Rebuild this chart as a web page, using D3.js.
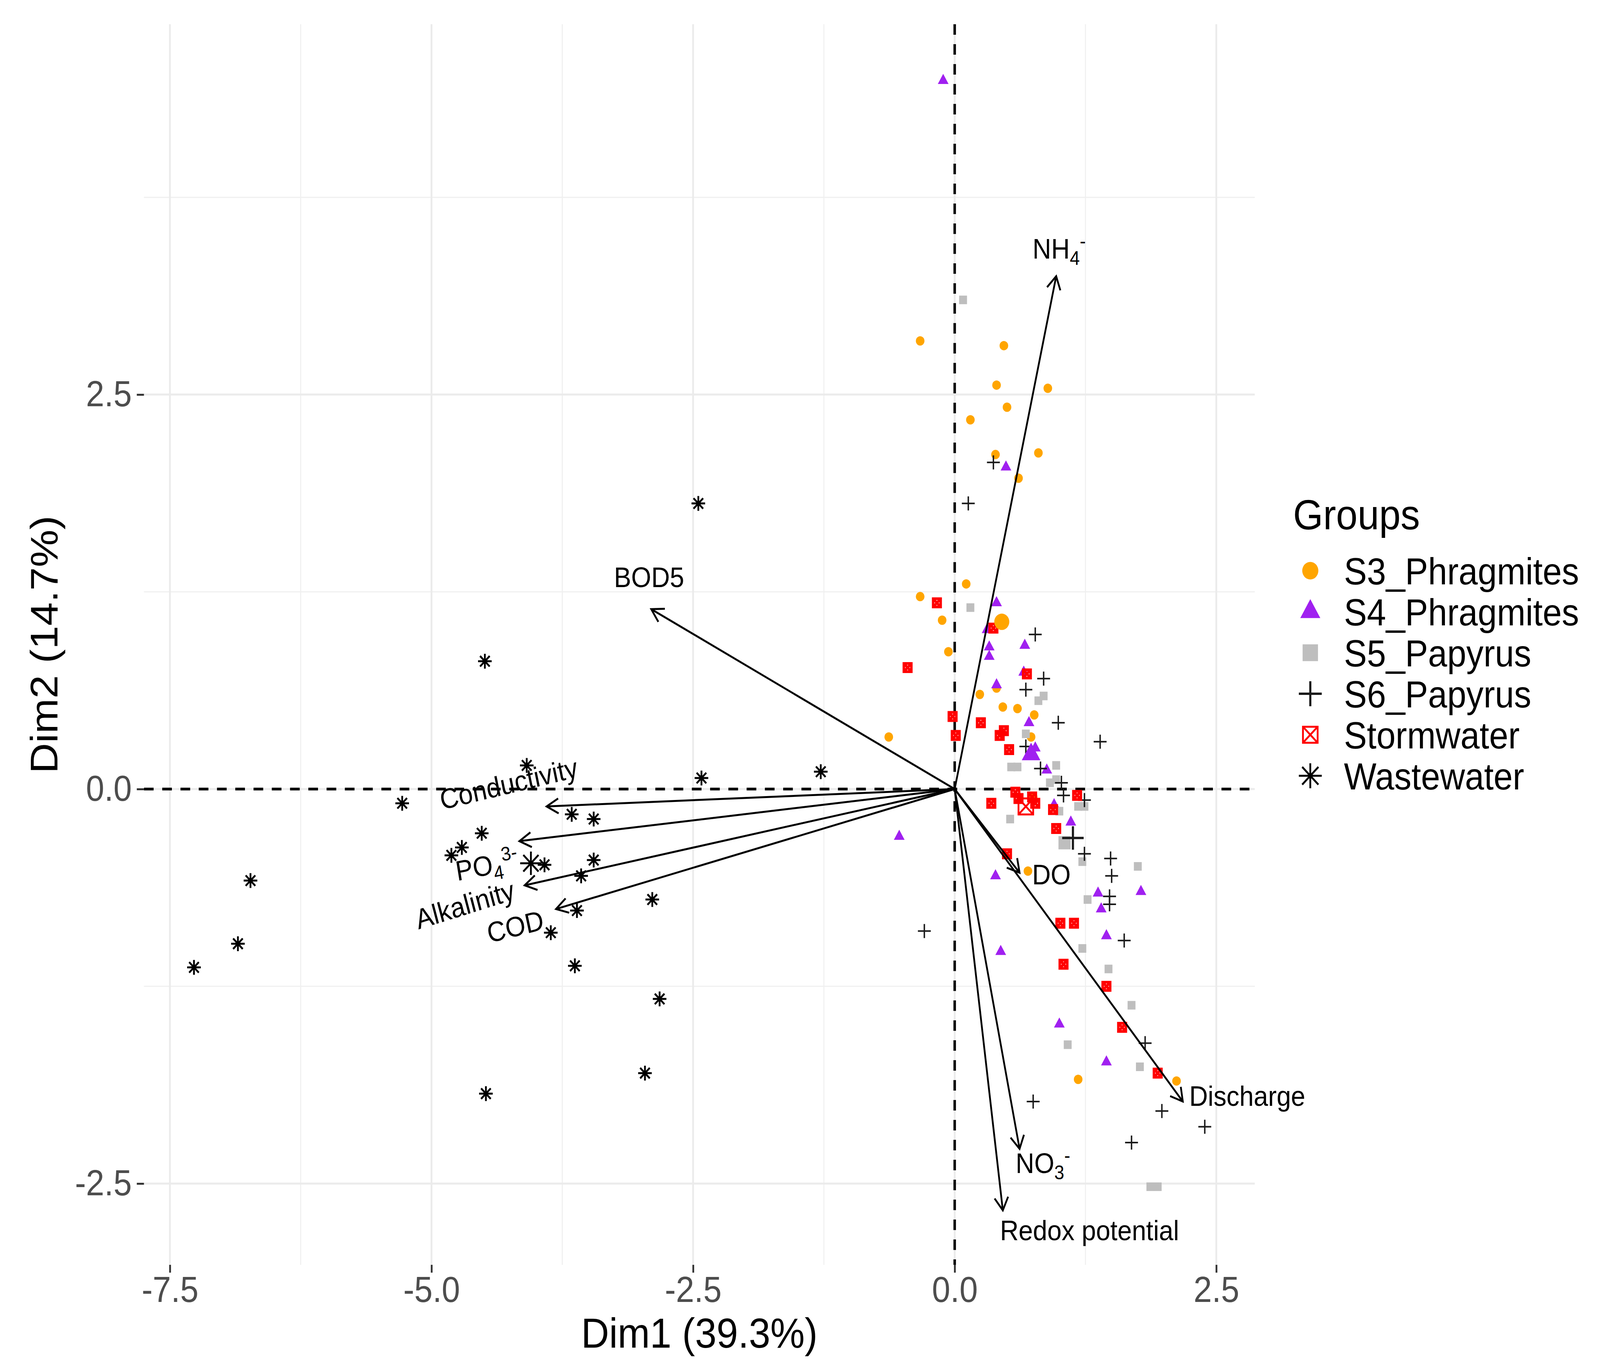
<!DOCTYPE html>
<html>
<head>
<meta charset="utf-8">
<script src="https://cdn.jsdelivr.net/npm/d3@7"></script>
<style>
  html, body { margin: 0; padding: 0; width: 100%; height: 100%; overflow: hidden; background: #fff; }
  #chart { width: 100%; height: 100%; }
  svg { display: block; width: 100%; height: 100%; }
  text { font-family: "Liberation Sans", Arial, sans-serif; }
</style>
</head>
<body>
<div id="chart"></div>
<script>
// group names, in legend order
const groups = ['S3_Phragmites', 'S4_Phragmites', 'S5_Papyrus', 'S6_Papyrus', 'Stormwater', 'Wastewater'];

// individuals, [Dim1, Dim2]
const s3Points = [[-0.33, 2.84], [0.47, 2.81], [0.40, 2.56], [0.89, 2.54], [0.50, 2.42], [0.15, 2.34],
  [0.39, 2.12], [0.80, 2.13], [0.61, 1.97], [0.11, 1.30], [-0.33, 1.22], [-0.12, 1.07], [-0.06, 0.87],
  [0.40, 0.64], [0.24, 0.60], [0.46, 0.52], [0.60, 0.51], [0.76, 0.47], [0.73, 0.33], [-0.63, 0.33],
  [0.75, -0.05], [0.70, -0.52], [1.18, -1.84], [2.12, -1.85]];
const s4Points = [[-0.11, 4.49], [0.49, 2.04], [0.40, 1.18], [0.31, 1.01], [0.67, 0.91], [0.33, 0.90],
  [0.33, 0.84], [0.66, 0.74], [0.40, 0.66], [0.71, 0.42], [0.77, 0.26], [0.88, 0.12], [0.95, -0.10],
  [1.11, -0.21], [-0.53, -0.30], [0.39, -0.55], [1.37, -0.66], [1.78, -0.65], [1.40, -0.76],
  [1.45, -0.93], [0.44, -1.03], [1.00, -1.49], [1.45, -1.73]];
const s5Points = [[0.08, 3.10], [0.15, 1.15], [0.80, 0.56], [0.85, 0.59], [0.68, 0.35], [0.54, 0.14],
  [0.60, 0.14], [0.97, 0.15], [0.91, 0.04], [0.97, 0.06], [1.18, -0.11], [1.24, -0.11], [1.00, -0.14],
  [0.53, -0.19], [1.22, -0.46], [1.75, -0.49], [1.27, -0.70], [1.22, -1.01], [1.47, -1.14],
  [1.69, -1.37], [1.08, -1.62], [1.77, -1.76], [1.87, -2.52], [1.94, -2.52]];
const s6Points = [[0.37, 2.07], [0.13, 1.81], [0.77, 0.98], [0.85, 0.70], [0.68, 0.63], [0.99, 0.42],
  [1.39, 0.30], [0.68, 0.27], [0.82, 0.13], [1.02, 0.04], [1.04, -0.04], [1.24, -0.07], [1.24, -0.41],
  [1.49, -0.44], [1.50, -0.55], [1.48, -0.68], [1.48, -0.73], [-0.29, -0.90], [1.62, -0.96],
  [1.82, -1.61], [0.75, -1.98], [1.98, -2.04], [2.39, -2.14], [1.69, -2.24]];
const stormPoints = [[-0.17, 1.18], [0.37, 1.02], [-0.45, 0.77], [0.69, 0.73], [-0.02, 0.46], [0.25, 0.42],
  [0.01, 0.34], [0.47, 0.37], [0.43, 0.34], [0.52, 0.25], [0.58, -0.02], [0.61, -0.06], [0.74, -0.05],
  [0.77, -0.09], [0.35, -0.09], [1.17, -0.04], [0.94, -0.13], [0.97, -0.25], [0.50, -0.41],
  [1.01, -0.85], [1.14, -0.85], [1.04, -1.11], [1.45, -1.25], [1.60, -1.51], [1.94, -1.80]];
const wastePoints = [[-2.45, 1.81], [-4.49, 0.81], [-5.28, -0.09], [-4.09, 0.15], [-2.42, 0.07], [-1.28, 0.11],
  [-3.66, -0.16], [-3.45, -0.19], [-4.52, -0.28], [-4.71, -0.37], [-4.81, -0.42], [-3.92, -0.48],
  [-3.45, -0.45], [-3.57, -0.55], [-3.61, -0.77], [-3.86, -0.91], [-2.89, -0.70], [-6.73, -0.58],
  [-6.85, -0.98], [-7.27, -1.13], [-3.63, -1.12], [-2.82, -1.33], [-2.96, -1.80], [-4.48, -1.93]];

// group mean points (large symbols)
const groupMeans = [[0.45, 1.06], [0.73, 0.22], [1.05, -0.34], [1.13, -0.31], [0.68, -0.11], [-4.05, -0.47]];

// variable arrows
const varNames = ['NH4', 'BOD5', 'Conductivity', 'PO4', 'Alkalinity', 'COD', 'DO', 'Discharge', 'NO3', 'Redox potential'];
const varDim1 = [0.97, -2.90, -3.90, -4.16, -4.11, -3.81, 0.62, 2.18, 0.62, 0.46];
const varDim2 = [3.25, 1.14, -0.11, -0.33, -0.61, -0.76, -0.53, -1.98, -2.28, -2.67];

const xTicks = [-7.5, -5, -2.5, 0, 2.5];
const yTicks = [-2.5, 0, 2.5];
const xMinor = [-6.25, -3.75, -1.25, 1.25];
const yMinor = [-1.25, 1.25, 3.75];

const groupPoints = [s3Points, s4Points, s5Points, s6Points, stormPoints, wastePoints];

// styling
const W = 4468, H = 3497;
const panel = { left: 402, right: 3504, top: 62, bottom: 3238 };
const styles = [
  { shape: 'circle', color: '#FFA500', size: 24, big: 42, key: 45 },
  { shape: 'triangle', color: '#A020F0', size: 30, big: 52, key: 56 },
  { shape: 'square', color: '#BEBEBE', size: 22, big: 34, key: 43 },
  { shape: 'plus', color: '#1a1a1a', size: 36, big: 60, key: 64 },
  { shape: 'squarex', color: '#FF0000', size: 28, big: 46, key: 46 },
  { shape: 'asterisk', color: '#000000', size: 38, big: 60, key: 64 }
];
// label placement relative to arrow tip (px), rotation in degrees
const labelPos = [
  { dx: -66, dy: -71, anchor: 'start', rot: 0 },
  { dx: -6, dy: -82, anchor: 'middle', rot: 0 },
  { dx: -106, dy: -59, anchor: 'middle', rot: -12.5 },
  { dx: -91, dy: 61, anchor: 'middle', rot: -10 },
  { dx: -167, dy: 49, anchor: 'middle', rot: -16 },
  { dx: -114, dy: 44, anchor: 'middle', rot: -13 },
  { dx: 35, dy: 4, anchor: 'start', rot: 0 },
  { dx: 18, dy: -15, anchor: 'start', rot: 0 },
  { dx: -11, dy: 36, anchor: 'start', rot: 0 },
  { dx: -8, dy: 50, anchor: 'start', rot: 0 }
];

const x = d3.scaleLinear().domain([-7.748, 2.868]).range([panel.left, panel.right]);
const y = d3.scaleLinear().domain([-3.015, 4.847]).range([panel.bottom, panel.top]);

// the drawing is laid out on a 4468x3497 grid and stretched to the window
const svg = d3.select('#chart').append('svg')
  .attr('viewBox', `0 0 ${W} ${H}`)
  .attr('preserveAspectRatio', 'none');

svg.append('rect').attr('width', W).attr('height', H).attr('fill', '#fff');

// grid
const grid = svg.append('g');
grid.selectAll('line.vminor').data(xMinor).enter().append('line')
  .attr('x1', d => x(d)).attr('x2', d => x(d))
  .attr('y1', panel.top).attr('y2', panel.bottom)
  .attr('stroke', '#F0F0F0').attr('stroke-width', 3);
grid.selectAll('line.hminor').data(yMinor).enter().append('line')
  .attr('y1', d => y(d)).attr('y2', d => y(d))
  .attr('x1', panel.left).attr('x2', panel.right)
  .attr('stroke', '#F0F0F0').attr('stroke-width', 3);
grid.selectAll('line.vmajor').data(xTicks).enter().append('line')
  .attr('x1', d => x(d)).attr('x2', d => x(d))
  .attr('y1', panel.top).attr('y2', panel.bottom)
  .attr('stroke', '#EBEBEB').attr('stroke-width', 5);
grid.selectAll('line.hmajor').data(yTicks).enter().append('line')
  .attr('y1', d => y(d)).attr('y2', d => y(d))
  .attr('x1', panel.left).attr('x2', panel.right)
  .attr('stroke', '#EBEBEB').attr('stroke-width', 5);

// axes
const fmt = d => d.toFixed(1);
const xAxis = svg.append('g')
  .attr('transform', `translate(0,${panel.bottom})`)
  .call(d3.axisBottom(x).tickValues(xTicks).tickFormat(fmt).tickSize(20).tickPadding(10));
const yAxis = svg.append('g')
  .attr('transform', `translate(${panel.left},0)`)
  .call(d3.axisLeft(y).tickValues(yTicks).tickFormat(fmt).tickSize(20).tickPadding(14));
[xAxis, yAxis].forEach(ax => {
  ax.select('.domain').remove();
  ax.selectAll('line').attr('stroke', '#333').attr('stroke-width', 5);
  ax.selectAll('text').attr('font-size', 92).attr('fill', '#4D4D4D')
    .style('font-family', '"Liberation Sans", Arial, sans-serif');
});

svg.append('text')
  .attr('x', (panel.left + panel.right) / 2)
  .attr('y', 3450)
  .attr('text-anchor', 'middle')
  .attr('font-size', 108)
  .text('Dim1 (39.3%)');
svg.append('text')
  .attr('transform', `translate(160,${(panel.top + panel.bottom) / 2}) rotate(-90)`)
  .attr('text-anchor', 'middle')
  .attr('font-size', 108)
  .text('Dim2 (14.7%)');

// zero lines
svg.append('line')
  .attr('x1', panel.left).attr('x2', panel.right)
  .attr('y1', y(0)).attr('y2', y(0))
  .attr('stroke', '#000').attr('stroke-width', 7).attr('stroke-dasharray', '27 24');
svg.append('line')
  .attr('x1', x(0)).attr('x2', x(0))
  .attr('y1', panel.top).attr('y2', panel.bottom)
  .attr('stroke', '#000').attr('stroke-width', 7).attr('stroke-dasharray', '27 24');

// marker drawing
const drawMarker = (g, st, s) => {
  const h = s / 2;
  if (st.shape === 'circle') {
    g.append('circle').attr('r', h).attr('fill', st.color);
  } else if (st.shape === 'triangle') {
    const th = s * 0.866;
    g.append('path')
      .attr('d', `M0,${-th * 2 / 3}L${h},${th / 3}L${-h},${th / 3}Z`)
      .attr('fill', st.color);
  } else if (st.shape === 'square') {
    g.append('rect').attr('x', -h).attr('y', -h).attr('width', s).attr('height', s).attr('fill', st.color);
  } else if (st.shape === 'plus') {
    g.append('path').attr('d', `M${-h},0H${h}M0,${-h}V${h}`)
      .attr('stroke', st.color).attr('stroke-width', s > 50 ? 6 : 4).attr('fill', 'none');
  } else if (st.shape === 'squarex') {
    const sw = s > 40 ? 5 : 7;
    const a = h - sw / 2;
    g.append('path')
      .attr('d', `M${-a},${-a}H${a}V${a}H${-a}ZM${-a},${-a}L${a},${a}M${a},${-a}L${-a},${a}`)
      .attr('stroke', st.color).attr('stroke-width', sw).attr('fill', 'none');
  } else if (st.shape === 'asterisk') {
    const d = h * Math.SQRT1_2;
    g.append('path')
      .attr('d', `M${-h},0H${h}M0,${-h}V${h}M${-d},${-d}L${d},${d}M${d},${-d}L${-d},${d}`)
      .attr('stroke', st.color).attr('stroke-width', 5).attr('fill', 'none');
  }
};

// individuals
const pts = svg.append('g');
groupPoints.forEach((list, gi) => {
  pts.selectAll(null)
    .data(list)
    .enter()
    .append('g')
    .attr('transform', d => `translate(${x(d[0])},${y(d[1])})`)
    .each(function () { drawMarker(d3.select(this), styles[gi], styles[gi].size); });
});

// group means
pts.selectAll(null)
  .data(groupMeans)
  .enter()
  .append('g')
  .attr('transform', d => `translate(${x(d[0])},${y(d[1])})`)
  .each(function (d, i) { drawMarker(d3.select(this), styles[i], styles[i].big); });

// variable arrows
const arrows = svg.append('g');
varNames.forEach((name, i) => {
  const x0 = x(0), y0 = y(0);
  const x1 = x(varDim1[i]), y1 = y(varDim2[i]);
  const ang = Math.atan2(y1 - y0, x1 - x0);
  const L = 38, spread = Math.PI / 6;
  arrows.append('line')
    .attr('x1', x0).attr('y1', y0).attr('x2', x1).attr('y2', y1)
    .attr('stroke', '#000').attr('stroke-width', 5);
  arrows.append('path')
    .attr('d', `M${x1 - L * Math.cos(ang - spread)},${y1 - L * Math.sin(ang - spread)}` +
      `L${x1},${y1}L${x1 - L * Math.cos(ang + spread)},${y1 - L * Math.sin(ang + spread)}`)
    .attr('stroke', '#000').attr('stroke-width', 5).attr('fill', 'none')
    .attr('stroke-linejoin', 'miter');

  const p = labelPos[i];
  const lx = x1 + p.dx, ly = y1 + p.dy;
  const t = arrows.append('text')
    .attr('transform', `translate(${lx},${ly}) rotate(${p.rot})`)
    .attr('text-anchor', p.anchor)
    .attr('dy', '0.36em')
    .attr('font-size', 72)
    .attr('fill', '#000');
  if (name === 'NH4' || name === 'NO3' || name === 'PO4') {
    const base = name.slice(0, 2);
    const sub = name.slice(2);
    const sup = name === 'PO4' ? '3-' : '-';
    t.append('tspan').text(base);
    t.append('tspan').attr('font-size', 50).attr('dy', 16).text(sub);
    t.append('tspan').attr('font-size', 50).attr('dy', -44).text(sup);
  } else {
    t.text(name);
  }
});

// legend
const legend = svg.append('g');
legend.append('text')
  .attr('x', 3611).attr('y', 1355)
  .attr('font-size', 108)
  .text('Groups');
const keyY = d3.scalePoint().domain(groups).range([1461, 1986]);
groups.forEach((gname, i) => {
  const g = legend.append('g').attr('transform', `translate(3659,${keyY(gname)})`);
  drawMarker(g, styles[i], styles[i].key);
  legend.append('text')
    .attr('x', 3753).attr('y', keyY(gname))
    .attr('dy', '0.36em')
    .attr('font-size', 96)
    .text(gname);
});
</script>
</body>
</html>
